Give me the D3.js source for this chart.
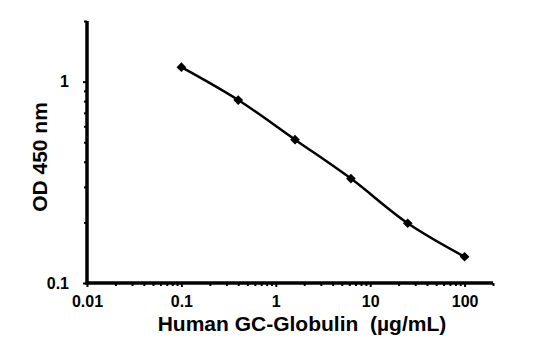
<!DOCTYPE html>
<html>
<head>
<meta charset="utf-8">
<script src="https://cdn.jsdelivr.net/npm/d3@7/dist/d3.min.js"></script>
<style>
html,body{margin:0;padding:0;background:#fff;}
svg{display:block;}
text{font-family:Arial,"Liberation Sans",sans-serif;font-weight:bold;fill:#000;}
</style>
</head>
<body>
<svg id="chart" width="558" height="340"></svg>
<script>
const concentrations = [0.1, 0.4, 1.6, 6.25, 25, 100];
const odValues = [1.18, 0.81, 0.515, 0.33, 0.198, 0.135];
const xTickValues = [0.01, 0.1, 1, 10, 100];
const xTickLabels = ["0.01", "0.1", "1", "10", "100"];
const yTickValues = [0.1, 1];
const yTickLabels = ["0.1", "1"];
const xTitle = "Human GC-Globulin\u00a0 (\u00b5g/mL)";
const yTitle = "OD 450 nm";

(function(){
const svg = d3.select("#chart");
const mLeft = 87, mRight = 493, mTop = 21, mBottom = 283;

const x = d3.scaleLog().domain([0.01, 200]).range([mLeft, mRight]);
const y = d3.scaleLog().domain([0.1, 2]).range([mBottom, mTop]);

const xMinor = [];
for (let d = 0.01; d < 200; d *= 10) for (let k = 2; k <= 9; k++) { if (d*k <= 200) xMinor.push(d*k); }
const yMinor = [];
for (let d = 0.1; d < 2; d *= 10) for (let k = 2; k <= 9; k++) { if (d*k <= 2) yMinor.push(d*k); }

const font = "Arial, 'Liberation Sans', sans-serif";

const xAxisG = svg.append("g").attr("transform", `translate(0,${mBottom})`)
  .call(d3.axisBottom(x).tickValues(xTickValues).tickFormat((d,i)=>xTickLabels[i]).tickSize(4).tickPadding(8));
xAxisG.select(".domain").remove();
xAxisG.selectAll(".tick line").attr("stroke", "#000").attr("stroke-width", 2);
xAxisG.selectAll(".tick text").attr("font-size", 16).attr("font-family", font).attr("font-weight", "bold")
  .attr("dy", null).attr("y", 24);
svg.append("g").attr("transform", `translate(0,${mBottom})`)
  .call(d3.axisBottom(x).tickValues(xMinor).tickFormat("").tickSize(3))
  .call(g => g.select(".domain").remove())
  .selectAll(".tick line").attr("stroke", "#000").attr("stroke-width", 2);

const yAxisG = svg.append("g").attr("transform", `translate(${mLeft},0)`)
  .call(d3.axisLeft(y).tickValues(yTickValues).tickFormat((d,i)=>yTickLabels[i]).tickSize(4).tickPadding(14));
yAxisG.select(".domain").remove();
yAxisG.selectAll(".tick line").attr("stroke", "#000").attr("stroke-width", 2);
yAxisG.selectAll(".tick text").attr("font-size", 16).attr("font-family", font).attr("font-weight", "bold");
svg.append("g").attr("transform", `translate(${mLeft},0)`)
  .call(d3.axisLeft(y).tickValues(yMinor).tickFormat("").tickSize(3))
  .call(g => g.select(".domain").remove())
  .selectAll(".tick line").attr("stroke", "#000").attr("stroke-width", 2);

svg.append("line").attr("x1", mLeft).attr("x2", mLeft).attr("y1", mTop).attr("y2", mBottom+1.5)
  .attr("stroke", "#000").attr("stroke-width", 3.5);
svg.append("line").attr("x1", mLeft-1.5).attr("x2", mRight).attr("y1", mBottom).attr("y2", mBottom)
  .attr("stroke", "#000").attr("stroke-width", 3.5);

const data = concentrations.map((c,i)=>({c, v: odValues[i]}));
svg.append("path").datum(data)
  .attr("fill", "none").attr("stroke", "#000").attr("stroke-width", 2.5)
  .attr("d", d3.line().x(d=>x(d.c)).y(d=>y(d.v)).curve(d3.curveCatmullRom.alpha(0.5)));

svg.selectAll(".pt").data(data).enter().append("path")
  .attr("class", "pt")
  .attr("transform", d=>`translate(${x(d.c)},${y(d.v)})`)
  .attr("d", d3.symbol().type(d3.symbolDiamond2).size(60))
  .attr("fill", "#000");

svg.append("text").attr("x", 302).attr("y", 331).attr("text-anchor", "middle")
  .attr("font-size", 21).text(xTitle);
svg.append("text").attr("transform", "translate(47,157) rotate(-90)").attr("text-anchor", "middle")
  .attr("font-size", 21).text(yTitle);
})();
</script>
</body>
</html>
